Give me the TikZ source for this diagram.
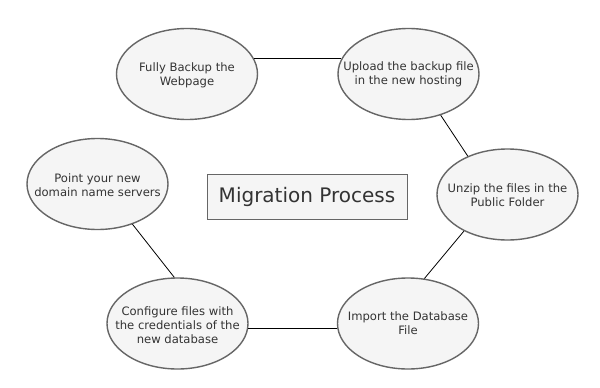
\documentclass[tikz,border=0pt]{standalone}
\usepackage{fontspec}
\setmainfont{DejaVu Sans}
\usetikzlibrary{shapes.geometric}
\definecolor{fillc}{HTML}{F5F5F5}
\definecolor{strokec}{HTML}{666666}
\definecolor{textc}{HTML}{333333}
\begin{document}
\begin{tikzpicture}[x=1pt,y=-1pt,
  ell/.style={ellipse, draw=strokec, fill=fillc, line width=1.4pt, minimum width=141pt, minimum height=91pt, inner sep=0pt},
  txt/.style={align=center, text=textc, font=\fontsize{11.6}{14}\selectfont, inner sep=0pt},
  boxst/.style={rectangle, draw=strokec, fill=fillc, line width=0.9pt, minimum width=200pt, minimum height=45pt, text=textc, font=\fontsize{20}{24}\selectfont},
  conn/.style={draw=black, line width=0.8pt}]
\fill[white] (0,0) rectangle (600,388);
\useasboundingbox (0,0) rectangle (600,388);
\node[ell] (a) at (187,74) {};
\node[txt] (ta) at (187,75) {Fully Backup the\\Webpage};
\node[ell] (b) at (408.5,74) {};
\node[txt] (tb) at (408.5,74.5) {Upload the backup file\\in the new hosting};
\node[ell] (c) at (507.5,194.5) {};
\node[txt] (tc) at (507.5,195) {Unzip the files in the\\Public Folder};
\node[ell] (d) at (408,323.5) {};
\node[txt] (td) at (408,323) {Import the Database\\File};
\node[ell] (e) at (177.5,323.5) {};
\node[txt] (te) at (177.5,325.5) {Configure files with\\the credentials of the\\new database};
\node[ell] (f) at (97.5,184) {};
\node[txt] (tf) at (97.5,185.5) {Point your new\\domain name servers};
\node[boxst] (m) at (307,196.5) {Migration Process};
\draw[conn] (a.13) -- (a.13 -| b.167);
\draw[conn] (b.-52) -- (c.136);
\draw[conn] (c.220) -- (d.70);
\draw[conn] (d.184) -- (d.184 -| e.-4);
\draw[conn] (e.94) -- (f.-49);
\end{tikzpicture}
\end{document}
